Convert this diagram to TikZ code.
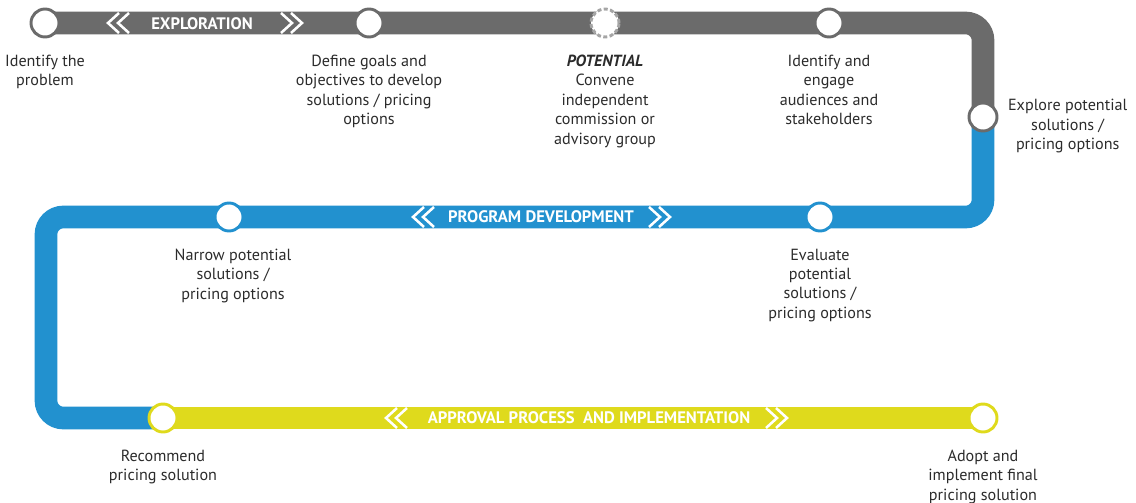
\documentclass[tikz,border=0pt]{standalone}
\usepackage{fontspec}
\setmainfont{PT Sans}
\usetikzlibrary{positioning,backgrounds}
\definecolor{trackgray}{HTML}{6B6B6B}
\definecolor{trackblue}{HTML}{2291CF}
\definecolor{trackyellow}{HTML}{DFDA1C}
\definecolor{dashgray}{HTML}{A5A5A5}
\definecolor{labelink}{HTML}{2B2B2B}
\tikzset{
  station/.style={circle, draw=#1, fill=white, line width=2.2pt, minimum size=21pt, inner sep=0pt},
  track/.style={draw=#1, line width=17pt, rounded corners=13pt},
  lbl/.style={align=center, text=labelink, font=\fontsize{12.1}{14.6}\selectfont, inner sep=0pt},
  banner/.style={text=white, font=\bfseries\fontsize{12.5}{13}\selectfont, inner sep=0pt},
  chev/.style={draw=white, line width=1.9pt},
}
\begin{document}
\begin{tikzpicture}[x=0.75pt,y=-0.75pt]
    \useasboundingbox (0,0) rectangle (1136,503);
    \node[station=trackgray] (s1) at (45,23) {};
    \node[station=trackgray] (s2) at (369,23) {};
    \node[station=dashgray, dash pattern=on 3pt off 1.8pt] (s3) at (605,23) {};
    \node[station=trackgray] (s4) at (829,23) {};
    \node[station=trackgray] (s5) at (983,117) {};
    \node[station=trackblue] (s6) at (820,217) {};
    \node[station=trackblue] (s7) at (229,217) {};
    \node[station=trackyellow] (s8) at (163,418) {};
    \node[station=trackyellow] (s9) at (983,418) {};
    \coordinate (tl) at (46,217);
    \coordinate (bl) at (46,418);

    \begin{scope}[on background layer]
        \draw[track=trackgray] (s1.center) -- (s5.center |- s1.center) -- (s5.center);
        \draw[track=trackblue] (s5.center) -- (s5.center |- s6.center) -- (tl) -- (bl) -- (s8.center);
        \draw[track=trackyellow] (s8.center) -- (s9.center);
    \end{scope}

    \node[banner] (b1) at (202,24) {EXPLORATION};
    \node[banner] (b2) at (541,217) {PROGRAM DEVELOPMENT};
    \node[banner] (b3) at (589,418) {APPROVAL PROCESS\ \ AND IMPLEMENTATION};
    \foreach \x/\y in {108/23, 413/217, 386/418} {
        \draw[chev] (\x+11,\y-10) -- (\x,\y) -- (\x+11,\y+10);
        \draw[chev] (\x+21,\y-10) -- (\x+10,\y) -- (\x+21,\y+10);
    }
    \foreach \x/\y in {302/23, 670/217, 787/418} {
        \draw[chev] (\x-11,\y-10) -- (\x,\y) -- (\x-11,\y+10);
        \draw[chev] (\x-21,\y-10) -- (\x-10,\y) -- (\x-21,\y+10);
    }

    \node[lbl, below=12pt of s1] (l1) {Identify the\\problem};
    \node[lbl, below=12pt of s2] (l2) {Define goals and\\objectives to develop\\solutions / pricing\\options};
    \node[lbl, below=12pt of s3] (l3) {\textbf{\textit{POTENTIAL}}\\Convene\\independent\\commission or\\advisory group};
    \node[lbl, below=12pt of s4] (l4) {Identify and\\engage\\audiences and\\stakeholders};
    \node[lbl, right=7pt of s5, yshift=-7pt] (l5) {Explore potential\\solutions /\\pricing options};
    \node[lbl, below=12pt of s6] (l6) {Evaluate\\potential\\solutions /\\pricing options};
    \node[lbl, below=12pt of s7, xshift=3pt] (l7) {Narrow potential\\solutions /\\pricing options};
    \node[lbl, below=12pt of s8] (l8) {Recommend\\pricing solution};
    \node[lbl, below=12pt of s9] (l9) {Adopt and\\implement final\\pricing solution};
\end{tikzpicture}
\end{document}
